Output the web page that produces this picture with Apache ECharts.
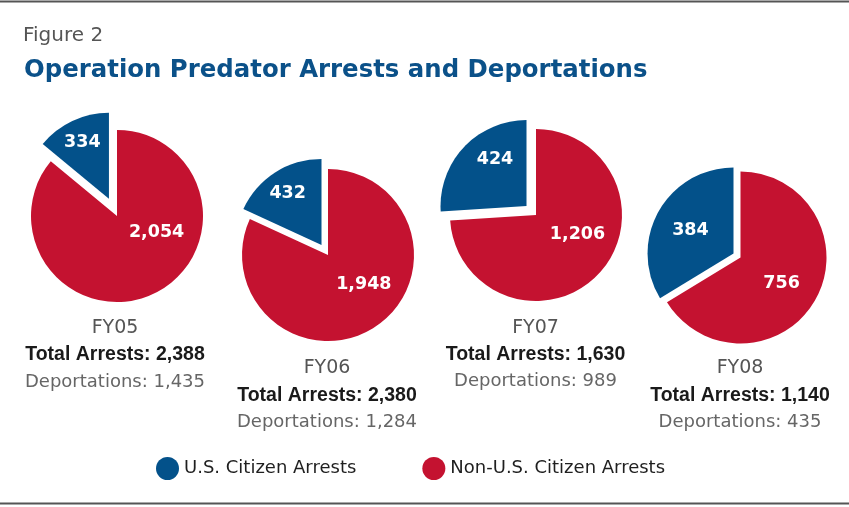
<!DOCTYPE html>
<html>
<head>
<meta charset="utf-8">
<script src="https://cdn.jsdelivr.net/npm/echarts@6/dist/echarts.min.js"></script>
<style>html,body{margin:0;padding:0;background:#fff}#c{width:849px;height:507px}</style>
</head>
<body>
<div id="c"></div>
<script>
// ---- data ----
const years = ['FY05', 'FY06', 'FY07', 'FY08'];
const usCitizenArrests = [334, 432, 424, 384];
const nonUsCitizenArrests = [2054, 1948, 1206, 756];
const deportations = [1435, 1284, 989, 435];
const seriesNames = ['U.S. Citizen Arrests', 'Non-U.S. Citizen Arrests'];

// ---- layout / style ----
const BLUE = '#03518a', RED = '#c41230';
const pieCenters = [[117, 216], [328, 255], [536, 215], [740.5, 257.5]];
const pieRadius = 86;
const explodeOffset = [19, 12, 13, 8];
const labelShift = [
  [[-7, -15], [20, -25]],
  [[-9, -13], [11, -9.5]],
  [[2, -15], [8, -12]],
  [[-3, -1], [1, 3]]
];
const textX = [115, 327, 535.5, 740];
const textY = [328, 368.3, 327.7, 368.3];
const fmt = v => v.toLocaleString('en-US');

const chart = echarts.init(document.getElementById('c'), null, {renderer: 'canvas'});

const series = years.map((y, i) => ({
  type: 'pie',
  name: y,
  center: pieCenters[i],
  radius: pieRadius,
  startAngle: 90,
  clockwise: false,
  selectedMode: 'single',
  selectedOffset: explodeOffset[i],
  avoidLabelOverlap: false,
  animation: false,
  silent: true,
  emphasis: {disabled: true},
  label: {
    show: true,
    position: 'inside',
    formatter: p => fmt(p.value),
    color: '#fff',
    fontFamily: 'DejaVu Sans',
    fontWeight: 'bold',
    fontSize: 17.5
  },
  labelLine: {show: false},
  labelLayout: p => ({dx: labelShift[i][p.dataIndex][0], dy: labelShift[i][p.dataIndex][1]}),
  data: [
    {name: seriesNames[0], value: usCitizenArrests[i], selected: true, itemStyle: {color: BLUE}},
    {name: seriesNames[1], value: nonUsCitizenArrests[i], itemStyle: {color: RED}}
  ]
}));

const graphics = [
  {type: 'line', shape: {x1: 0, y1: 1.5, x2: 849, y2: 1.5}, style: {stroke: '#555', lineWidth: 2}},
  {type: 'line', shape: {x1: 0, y1: 503.5, x2: 849, y2: 503.5}, style: {stroke: '#555', lineWidth: 2}},
  {type: 'text', x: 23, y: 35.5, style: {text: 'Figure 2', fill: '#555', font: '20px "DejaVu Sans"', textVerticalAlign: 'middle'}},
  {type: 'text', x: 24, y: 71, style: {text: 'Operation Predator Arrests and Deportations', fill: '#0b5189', font: 'bold 24.4px "DejaVu Sans"', textVerticalAlign: 'middle'}}
];
years.forEach((y, i) => {
  const total = usCitizenArrests[i] + nonUsCitizenArrests[i];
  graphics.push(
    {type: 'text', x: textX[i], y: textY[i], style: {text: y, fill: '#555', font: '19px "DejaVu Sans"', textAlign: 'center', textVerticalAlign: 'middle'}},
    {type: 'text', x: textX[i], y: textY[i] + 27, style: {text: 'Total Arrests: ' + fmt(total), fill: '#1a1a1a', font: 'bold 19.5px "Liberation Sans"', textAlign: 'center', textVerticalAlign: 'middle'}},
    {type: 'text', x: textX[i], y: textY[i] + 54, style: {text: 'Deportations: ' + fmt(deportations[i]), fill: '#666', font: '18px "DejaVu Sans"', textAlign: 'center', textVerticalAlign: 'middle'}}
  );
});

chart.setOption({
  backgroundColor: '#fff',
  animation: false,
  legend: {
    data: seriesNames,
    left: 156,
    top: 457,
    padding: 0,
    icon: 'circle',
    itemWidth: 23,
    itemHeight: 23,
    itemGap: 66,
    selectedMode: false,
    textStyle: {fontFamily: 'DejaVu Sans', fontSize: 18, color: '#1f1f1f'}
  },
  series: series,
  graphic: graphics
});
</script>
</body>
</html>
